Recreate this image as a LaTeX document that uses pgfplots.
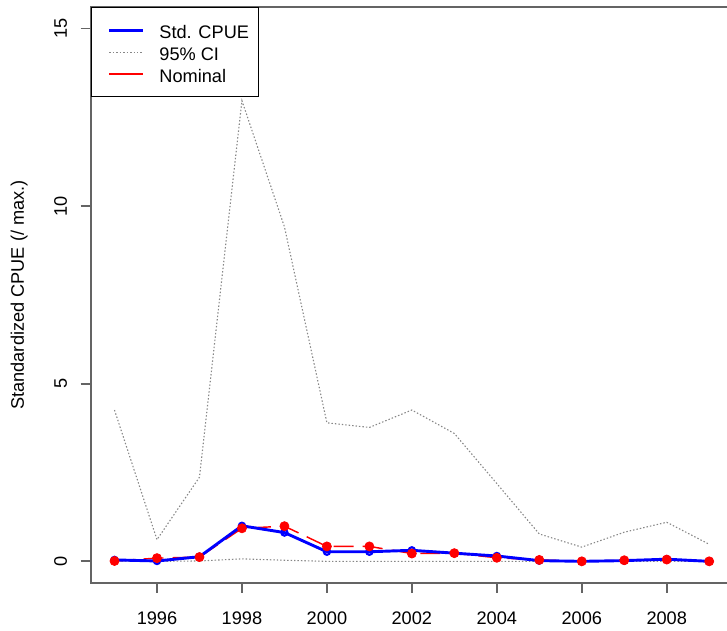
\documentclass[border=0pt]{standalone}
\usepackage{pgfplots}
\usepackage{pgfplotstable}
\pgfplotsset{compat=1.18}
\usepackage{fontspec}
\setmainfont{Liberation Sans}

\definecolor{axisgray}{RGB}{100,100,100}
\definecolor{cigray}{RGB}{135,135,135}

% Standardized and nominal CPUE (scaled to max.) with 95% CI
\pgfplotstableread{
year  std   nominal upper  lower
1995  0.04  0.01    4.26   0.005
1996  0.01  0.09    0.61   0.00
1997  0.13  0.12    2.37   0.01
1998  1.00  0.93    12.97  0.07
1999  0.81  0.99    9.42   0.03
2000  0.27  0.42    3.90   0.00
2001  0.27  0.42    3.77   0.00
2002  0.31  0.22    4.26   0.00
2003  0.23  0.23    3.60   0.00
2004  0.15  0.10    2.19   0.00
2005  0.02  0.04    0.77   0.00
2006  0.00  0.00    0.40   0.00
2007  0.02  0.03    0.82   0.00
2008  0.06  0.05    1.10   0.00
2009  0.00  0.00    0.48   0.00
}\cpue

\begin{document}
\begin{tikzpicture}[font=\fontsize{10}{12}\selectfont]
\begin{axis}[
  name=main,
  scale only axis,
  width=353.3pt, height=316.5pt,
  xmin=1994.44, xmax=2009.56,
  ymin=-0.6, ymax=15.6,
  axis line style={axisgray, line width=1pt},
  tick pos=left,
  tick align=outside,
  major tick length=5.5pt,
  tick style={axisgray, line width=1pt},
  xtick={1996,1998,...,2008},
  ytick={0,5,10,15},
  /pgf/number format/assume math mode=true,
  xticklabel style={/pgf/number format/1000 sep={}, inner sep=0pt, text height=7.2pt, text depth=0pt, yshift=-10.2pt},
  yticklabel style={xshift=-7.4pt, rotate=90, anchor=south, inner sep=0pt, text height=7.2pt, text depth=0pt},
  ylabel={Standardized CPUE (/ max.)},
  ylabel style={at={(axis description cs:-0.1141,0.5)}, anchor=center, rotate=0, inner sep=0pt, text height=7.2pt, text depth=0pt},
  legend style={at={(0,1)}, anchor=north west, draw=black, line width=0.6pt, fill=white,
    inner xsep=5.2pt, inner ysep=8.1pt, row sep=3.2pt, column sep=8.25pt,
    nodes={inner sep=0pt, text height=8.8pt, text depth=0pt},
    cells={anchor=west}, font=\fontsize{10}{12}\selectfont},
  legend image code/.code={\draw[#1] (0pt,0pt) -- (18.7pt,0pt); \path (-4.15pt,0pt);},
]
% legend keys
\addlegendimage{blue, line width=1.2pt}
\addlegendentry{Std. CPUE}
\addlegendimage{cigray, line width=0.6pt, dash pattern=on 0.8pt off 1.1pt}
\addlegendentry{95\% CI}
\addlegendimage{red, line width=1.2pt}
\addlegendentry{Nominal}

% confidence bounds
\addplot[forget plot, cigray, line width=0.6pt, dash pattern=on 0.8pt off 1.1pt] table[x=year, y=upper] {\cpue};
\addplot[forget plot, cigray, line width=0.6pt, dash pattern=on 0.8pt off 1.1pt] table[x=year, y=lower] {\cpue};
% nominal index, dashed line
\addplot[forget plot, red, line width=0.8pt, dash pattern=on 11pt off 5pt] table[x=year, y=nominal] {\cpue};
% standardized index
\addplot[forget plot, blue, line width=1.6pt, mark=o, mark size=1.7pt, mark options={solid, line width=1.2pt}] table[x=year, y=std] {\cpue};
% nominal index, points
\addplot[forget plot, only marks, red, mark=*, mark size=2.5pt] table[x=year, y=nominal] {\cpue};
\end{axis}
\pgfresetboundingbox
\path[use as bounding box] ([xshift=-49.9pt, yshift=-26.6pt]main.south west) rectangle ([xshift=-3.3pt, yshift=4pt]main.north east);
\end{tikzpicture}
\end{document}
